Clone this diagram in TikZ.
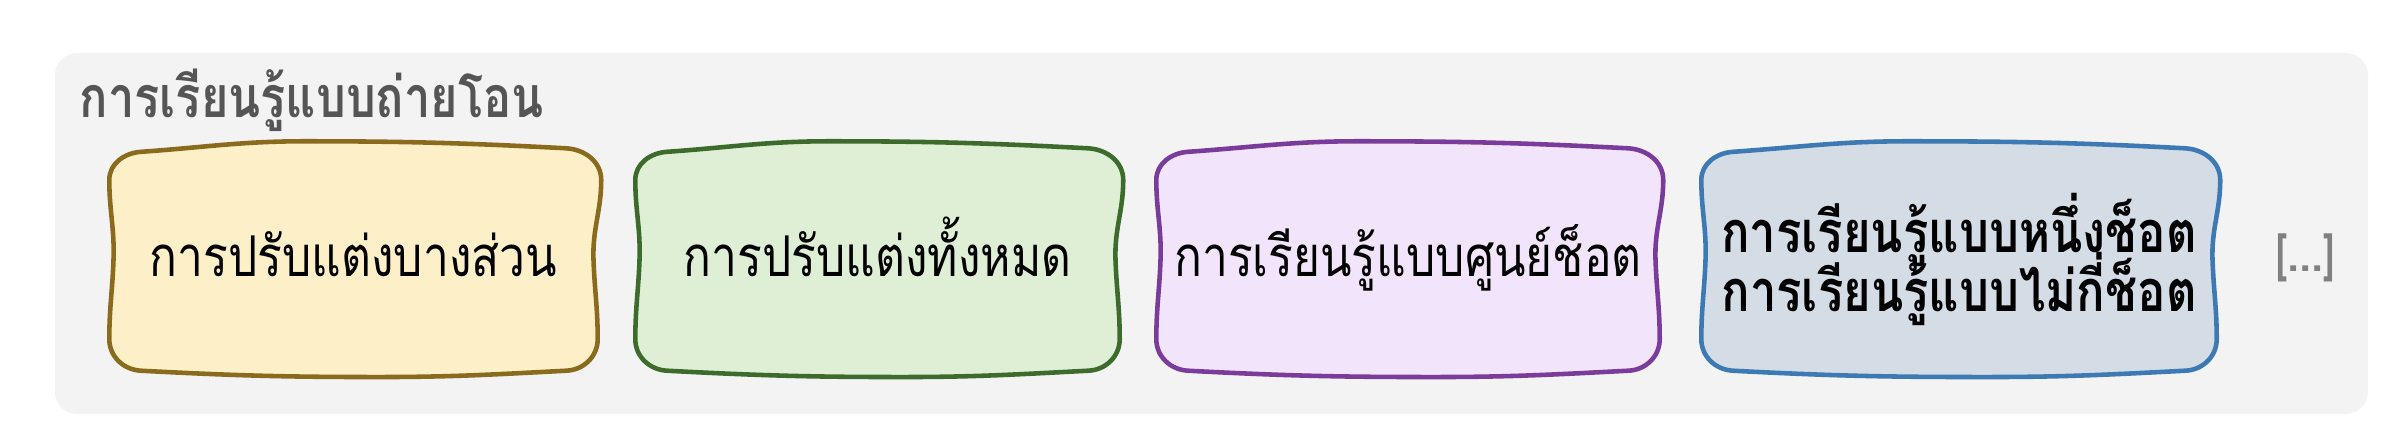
\documentclass[tikz,border=0pt]{standalone}
\usepackage{fontspec}
\newfontfamily\thaifont[Script=Thai, FakeStretch=0.82]{Loma}
\usetikzlibrary{calc}

\definecolor{panelgray}{HTML}{F3F3F3}
\definecolor{titlegray}{HTML}{555555}
\definecolor{partfill}{HTML}{FDF0C9}
\definecolor{partline}{HTML}{8A6A1C}
\definecolor{fullfill}{HTML}{DFEFD6}
\definecolor{fullline}{HTML}{3C6B2C}
\definecolor{zerofill}{HTML}{F2E4FA}
\definecolor{zeroline}{HTML}{7A3B9B}
\definecolor{fewfill}{HTML}{D4DCE6}
\definecolor{fewline}{HTML}{3D79B2}

\pgfdeclarelayer{back}
\pgfsetlayers{back,main}

% hand drawn frame round a node
\newcommand{\wobble}[3]{%
  \begin{pgfonlayer}{back}
  \draw[boxline, draw=#2, fill=#3]
    ([xshift=9pt,yshift=-1pt]#1.north west)
    to[out=4,in=180] ($(#1.north west)!0.4!(#1.north east)+(0,2pt)$)
    to[out=0,in=177] ([xshift=-9pt]#1.north east)
    to[out=-3,in=90] ([yshift=-9pt,xshift=1pt]#1.north east)
    to[out=-90,in=92] ($(#1.north east)!0.5!(#1.south east)+(-1.2pt,0)$)
    to[out=-88,in=90] ([yshift=9pt]#1.south east)
    to[out=-90,in=2] ([xshift=-9pt]#1.south east)
    to[out=183,in=0] ($(#1.south west)!0.55!(#1.south east)+(0,-1.8pt)$)
    to[out=180,in=-3] ([xshift=9pt]#1.south west)
    to[out=177,in=-90] ([yshift=9pt]#1.south west)
    to[out=90,in=-92] ($(#1.south west)!0.5!(#1.north west)+(1.2pt,0)$)
    to[out=88,in=-90] ([yshift=-9pt]#1.north west)
    to[out=90,in=184] cycle;
  \end{pgfonlayer}}

\begin{document}
\begin{tikzpicture}

\tikzset{panel/.style={fill=panelgray, rounded corners=0.22cm,
                       minimum width=23.13cm, minimum height=3.61cm, inner sep=0pt},
         titletext/.style={text=titlegray, inner sep=0pt,
                       font=\thaifont\bfseries\fontsize{16.3}{19}\selectfont},
         boxline/.style={line width=1.3pt, line join=round},
         stagebase/.style={minimum height=2.21cm, align=center, inner sep=0pt},
         stagebox/.style={stagebase, text height=0.43cm, text depth=0.1cm,
                       font=\thaifont\fontsize{16}{18}\selectfont},
         fewbox/.style={stagebase, execute at begin node={\lineskiplimit=-20pt\relax},
                       font=\thaifont\bfseries\fontsize{16.4}{16.8}\selectfont},
         moretext/.style={text=gray, font=\thaifont\bfseries\fontsize{15}{18}\selectfont}}

%%% page and grey panel
\useasboundingbox (0,0) rectangle (23.88,4.32);
\begin{pgfonlayer}{back}
\node[panel] (panel) at (12.115,1.985) {};
\end{pgfonlayer}

\node[titletext, anchor=base west] (title) at (0.79,3.15) {การเรียนรู้แบบถ่ายโอน};

%%% the four ways
\node[stagebox, minimum width=4.87cm] (partial) at (3.535,1.725) {การปรับแต่งบางส่วน};
\node[stagebox, minimum width=4.83cm] (full) at (8.775,1.725) {การปรับแต่งทั้งหมด};
\node[stagebox, minimum width=5.02cm] (zeroshot) at (14.08,1.725) {การเรียนรู้แบบศูนย์ช็อต};
\node[fewbox, minimum width=5.14cm] (fewshot) at (19.59,1.725)
   {การเรียนรู้แบบหนึ่งช็อต\\การเรียนรู้แบบไม่กี่ช็อต};

\wobble{partial}{partline}{partfill}
\wobble{full}{fullline}{fullfill}
\wobble{zeroshot}{zeroline}{zerofill}
\wobble{fewshot}{fewline}{fewfill}

\node[moretext] (more) at (23.05,1.74) {[...]};

\end{tikzpicture}
\end{document}
